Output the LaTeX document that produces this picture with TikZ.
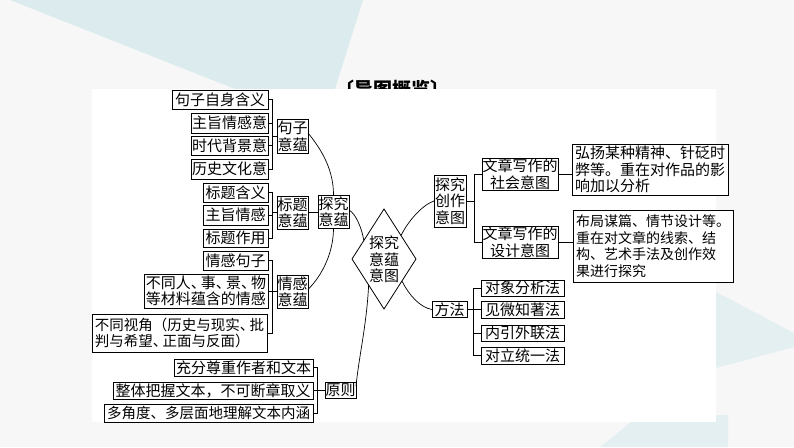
\documentclass[tikz,border=0pt]{standalone}
\usepackage{fontspec}
\newfontfamily\cjk{Noto Sans CJK SC}
\usetikzlibrary{shapes.geometric,calc}
\definecolor{bgc}{HTML}{F7F7F7}
\definecolor{tealA}{HTML}{DCECEE}
\definecolor{tealB}{HTML}{E3EFF1}
\newcommand{\hdun}{\makebox[0.67em][l]{、}}
\begin{document}
\begin{tikzpicture}[x=1pt,y=-1pt,
  box/.style={draw=black, line width=0.8pt, inner sep=0pt, outer sep=0pt, fill=white,
    font=\cjk\fontsize{15}{16.5}\selectfont, align=center},
  smallbox/.style={box, font=\cjk\fontsize{14.5}{16.5}\selectfont},
  conn/.style={draw=black, line width=0.7pt},
]
\useasboundingbox (0,0) rectangle (794,447);
% background
\fill[bgc] (0,0) rectangle (794,447);
\fill[tealA] (10,0) -- (363,0) -- (335,89) -- (235,89) -- cycle;
\fill[tealB] (716,292) -- (794,333) -- (794,347) -- (716,368) -- cycle;
\fill[tealB] (600,447) -- (640,415) -- (728,415) -- (728,447) -- cycle;
\node[font=\cjk\bfseries\fontsize{19}{19}\selectfont, anchor=base, inner sep=0pt] (title) at (392,96) {〔导图概览〕};
\fill[white] (92,89) rectangle (716,422);

% left: sentence
\node[box, minimum width=96, minimum height=19] (a1) at (220,99.5) {句子自身含义};
\node[box, minimum width=77, minimum height=20] (a2) at (229.5,123) {主旨情感意};
\node[box, minimum width=77, minimum height=19] (a3) at (229.5,145.5) {时代背景意};
\node[box, minimum width=77, minimum height=20] (a4) at (229.5,169) {历史文化意};
\node[box, minimum width=31, minimum height=34] (A) at (292.5,136) {句子\\意蕴};
% title
\node[box, minimum width=65, minimum height=19] (b1) at (235.5,192.5) {标题含义};
\node[box, minimum width=65, minimum height=20] (b2) at (235.5,215) {主旨情感};
\node[box, minimum width=65, minimum height=18] (b3) at (235.5,238) {标题作用};
\node[box, minimum width=31, minimum height=33] (B) at (292.5,212.5) {标题\\意蕴};
\node[box, minimum width=31, minimum height=33] (T) at (333.5,211.5) {探究\\意蕴};
% emotion
\node[box, minimum width=65, minimum height=19] (c1) at (235.5,260.5) {情感句子};
\node[box, minimum width=124, minimum height=34, align=left] (c2) at (206,291) {不同人\hdun 事\hdun 景\hdun 物\\等材料蕴含的情感};
\node[smallbox, minimum width=175, minimum height=38, align=left] (c3) at (179.5,333) {不同视角（历史与现实\hdun 批\\判与希望\hdun 正面与反面）};
\node[box, minimum width=31, minimum height=33] (C) at (292.5,291.5) {情感\\意蕴};
% principles
\node[box, minimum width=139, minimum height=17] (d1) at (243.5,367.5) {充分尊重作者和文本};
\node[box, minimum width=200, minimum height=17] (d2) at (213,390.5) {整体把握文本，不可断章取义};
\node[smallbox, minimum width=209, minimum height=18] (d3) at (208.5,413) {多角度、多层面地理解文本内涵};
\node[box, minimum width=31, minimum height=16] (D) at (340.5,390) {原则};

% center diamond
\node[diamond, draw=black, line width=0.8pt, minimum width=64, minimum height=100, inner sep=0pt, outer sep=0pt, fill=white] (M) at (384,259) {};
\node[box, draw=none, fill=none] (Mt) at (384,259.5) {探究\\意蕴\\意图};

% right
\node[box, minimum width=32, minimum height=52] (E) at (450,201) {探究\\创作\\意图};
\node[box, minimum width=76, minimum height=32] (e1) at (520,174) {文章写作的\\社会意图};
\node[box, minimum width=76, minimum height=32] (e2) at (520,242) {文章写作的\\设计意图};
\node[box, minimum width=156, minimum height=51, align=left] (f1) at (650,169.5) {弘扬某种精神、针砭时\\弊等。重在对作品的影\\响加以分析};
\node[box, minimum width=160, minimum height=72, align=left, font=\cjk\fontsize{14}{16.6}\selectfont] (f2) at (653,246) {布局谋篇、情节设计等。\\重在对文章的线索、结\\构、艺术手法及创作效\\果进行探究};
\node[box, minimum width=35, minimum height=16] (G) at (449.5,309.5) {方法};
\node[box, minimum width=83, minimum height=16] (g1) at (522.5,288) {对象分析法};
\node[box, minimum width=83, minimum height=17] (g2) at (522.5,309.5) {见微知著法};
\node[box, minimum width=83, minimum height=16] (g3) at (522.5,333) {内引外联法};
\node[box, minimum width=83, minimum height=17] (g4) at (522.5,355.5) {对立统一法};

% junction coordinates
\coordinate (ja) at (272,136);
\coordinate (jb) at (272,212.5);
\coordinate (jc) at (272,291.5);
\coordinate (jd) at (317,390);
\coordinate (je) at (474,201);
\coordinate (jg) at (473,309.5);

% brackets
\draw[conn] (a1.east) -| (ja);
\draw[conn] (a4.east) -| (ja);
\draw[conn] (a2.east) -- (a2.east -| ja);
\draw[conn] (a3.east) -- (a3.east -| ja);
\draw[conn] (ja) -- (A.west);

\draw[conn] (b1.east) -| (jb);
\draw[conn] (b3.east) -| (jb);
\draw[conn] (b2.east) -- (b2.east -| jb);
\draw[conn] (jb) -- (B.west);
\draw[conn] (B.east) -- (B.east -| T.west);

\draw[conn] (c1.east) -| (jc);
\draw[conn] (c3.east) -| (jc);
\draw[conn] (c2.east) -- (c2.east -| jc);
\draw[conn] (jc) -- (C.west);

\draw[conn] (d1.east) -| (jd);
\draw[conn] (d3.east) -| (jd);
\draw[conn] (d2.east) -- (d2.east -| jd);
\draw[conn] (jd) -- (D.west);

\draw[conn] (E.east) -- (je);
\draw[conn] (e1.west) -| (je);
\draw[conn] (e2.west) -| (je);
\draw[conn] (e1.east) -- (e1.east -| f1.west);
\draw[conn] (e2.east) -- (e2.east -| f2.west);

\draw[conn] (G.east) -- (jg);
\draw[conn] (g1.west) -| (jg);
\draw[conn] (g2.west) -| (jg);
\draw[conn] (g3.west) -| (jg);
\draw[conn] (g4.west) -| (jg);

% curves
\draw[conn] ($(A.east)+(0,-3)$) .. controls +(14,17) and +(0,-25) .. (T.north);
\draw[conn] (T.south) .. controls +(0,25) and +(14,-14) .. ($(C.east)+(0,-2)$);
\draw[conn] ($(T.east)+(0,-1.5)$) .. controls +(7,4) and +(-2,-12) .. ($(M.west)!0.37!(M.north)$);
\draw[conn] ($(M.east)!0.47!(M.north)$) .. controls +(7,-14) and +(-12,4) .. (E.west);
\draw[conn] ($(M.east)!0.44!(M.south)$) .. controls +(7,14) and +(-12,-2) .. (G.west);
\draw[conn] ($(M.west)!0.52!(M.south)$) .. controls +(-2,40) and +(3,-30) .. ($(D.north east)+(0,4)$);
\end{tikzpicture}
\end{document}
